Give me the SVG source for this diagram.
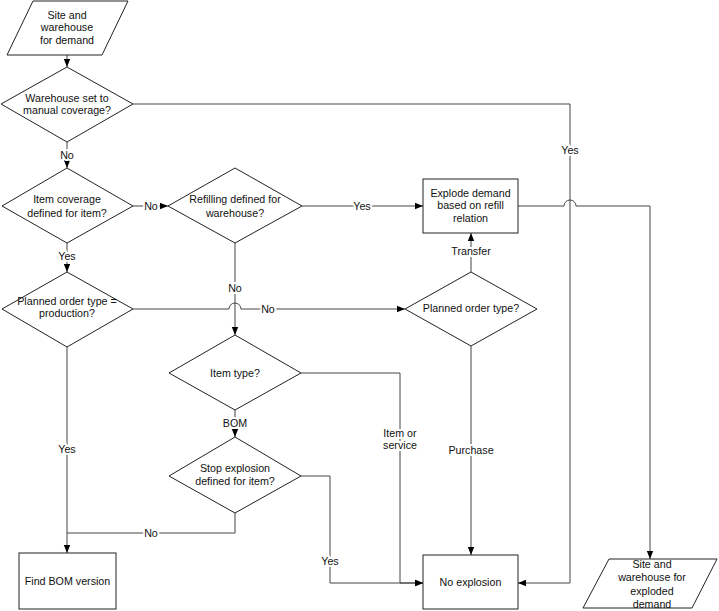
<svg xmlns="http://www.w3.org/2000/svg" width="719" height="611" viewBox="0 0 719 611">
<defs>
<marker id="arr" markerUnits="userSpaceOnUse" markerWidth="8" markerHeight="8" viewBox="0 0 8 8" refX="8" refY="4" orient="auto">
<path d="M0,0.8 L8,4 L0,7.2 Z" fill="#000"/>
</marker>
<style>
.shape{fill:#fff;stroke:#222;stroke-width:1}
.conn{fill:none;stroke:#444;stroke-width:1}
.t{font-family:"Liberation Sans",Arial,sans-serif;font-size:10.7px;fill:#111;text-anchor:middle}
.lbl{font-family:"Liberation Sans",Arial,sans-serif;font-size:10.7px;fill:#111;text-anchor:middle;stroke:#fff;stroke-width:4;paint-order:stroke;stroke-linejoin:round}
</style>
</defs>
<rect width="719" height="611" fill="#fff"/>

<g id="connectors">
<path class="conn" d="M67,55 V67" marker-end="url(#arr)"/>
<path class="conn" d="M67,142 V168" marker-end="url(#arr)"/>
<path class="conn" d="M133,104 H570 V583 H518" marker-end="url(#arr)"/>
<path class="conn" d="M133,206 H168" marker-end="url(#arr)"/>
<path class="conn" d="M67,243 V272" marker-end="url(#arr)"/>
<path class="conn" d="M302,206 H423" marker-end="url(#arr)"/>
<path class="conn" d="M235,243 V335" marker-end="url(#arr)"/>
<path class="conn" d="M133,309 H229 A6,6 0 0 1 241,309 H405" marker-end="url(#arr)"/>
<path class="conn" d="M471,272 V233" marker-end="url(#arr)"/>
<path class="conn" d="M518,206 H564 A6,6 0 0 1 576,206 H650 V559" marker-end="url(#arr)"/>
<path class="conn" d="M67,347 V553" marker-end="url(#arr)"/>
<path class="conn" d="M301,373 H400 V583 H423" marker-end="url(#arr)"/>
<path class="conn" d="M235,410 V437" marker-end="url(#arr)"/>
<path class="conn" d="M301,476 H330 V583 H423" marker-end="url(#arr)"/>
<path class="conn" d="M235,513 V533 H67"/>
<path class="conn" d="M471,346 V555" marker-end="url(#arr)"/>
<text class="lbl" x="67" y="159">No</text>
<text class="lbl" x="570" y="154">Yes</text>
<text class="lbl" x="151" y="210">No</text>
<text class="lbl" x="67" y="260">Yes</text>
<text class="lbl" x="362" y="210">Yes</text>
<text class="lbl" x="235" y="292">No</text>
<text class="lbl" x="268" y="313">No</text>
<text class="lbl" x="471" y="255">Transfer</text>
<text class="lbl" x="67" y="453">Yes</text>
<text class="lbl" x="400" y="437">Item or</text>
<text class="lbl" x="400" y="449">service</text>
<text class="lbl" x="235" y="427">BOM</text>
<text class="lbl" x="330" y="565">Yes</text>
<text class="lbl" x="151" y="537">No</text>
<text class="lbl" x="471" y="454">Purchase</text>
</g>

<g id="site-warehouse-demand">
<polygon class="shape" points="33,1 128,1 102,55 7,55"/>
<text class="t" x="67" y="18.5">Site and</text>
<text class="t" x="67" y="31">warehouse</text>
<text class="t" x="67" y="43.5">for demand</text>
</g>

<g id="manual-coverage">
<polygon class="shape" points="67,67 133,104 67,142 1,104"/>
<text class="t" x="67" y="102">Warehouse set to</text>
<text class="t" x="67" y="114">manual coverage?</text>
</g>

<g id="item-coverage">
<polygon class="shape" points="67,168 133,206 67,243 2,206"/>
<text class="t" x="67" y="203">Item coverage</text>
<text class="t" x="67" y="216.5">defined for item?</text>
</g>

<g id="refilling">
<polygon class="shape" points="235,168 302,206 235,243 168,206"/>
<text class="t" x="235" y="203">Refilling defined for</text>
<text class="t" x="235" y="216.5">warehouse?</text>
</g>

<g id="explode-refill">
<rect class="shape" x="423" y="179" width="95" height="54"/>
<text class="t" x="470.5" y="196.5">Explode demand</text>
<text class="t" x="470.5" y="209">based on refill</text>
<text class="t" x="470.5" y="221.5">relation</text>
</g>

<g id="planned-production">
<polygon class="shape" points="67,272 133,309 67,347 2,309"/>
<text class="t" x="67" y="305">Planned order type =</text>
<text class="t" x="67" y="317">production?</text>
</g>

<g id="planned-order-type">
<polygon class="shape" points="471,272 537,309 471,346 405,309"/>
<text class="t" x="471" y="312">Planned order type?</text>
</g>

<g id="item-type">
<polygon class="shape" points="235,335 301,373 235,410 169,373"/>
<text class="t" x="235" y="377">Item type?</text>
</g>

<g id="stop-explosion">
<polygon class="shape" points="235,437 301,476 235,513 169,476"/>
<text class="t" x="235" y="472">Stop explosion</text>
<text class="t" x="235" y="485">defined for item?</text>
</g>

<g id="find-bom">
<rect class="shape" x="19" y="553" width="97" height="56"/>
<text class="t" x="67.5" y="585">Find BOM version</text>
</g>

<g id="no-explosion">
<rect class="shape" x="423" y="555" width="95" height="54"/>
<text class="t" x="470.5" y="586">No explosion</text>
</g>

<g id="site-warehouse-exploded">
<polygon class="shape" points="609,559 717,559 692,608 583,608"/>
<text class="t" x="652" y="568">Site and</text>
<text class="t" x="652" y="581">warehouse for</text>
<text class="t" x="652" y="594.5">exploded</text>
<text class="t" x="652" y="607.5">demand</text>
</g>
</svg>
